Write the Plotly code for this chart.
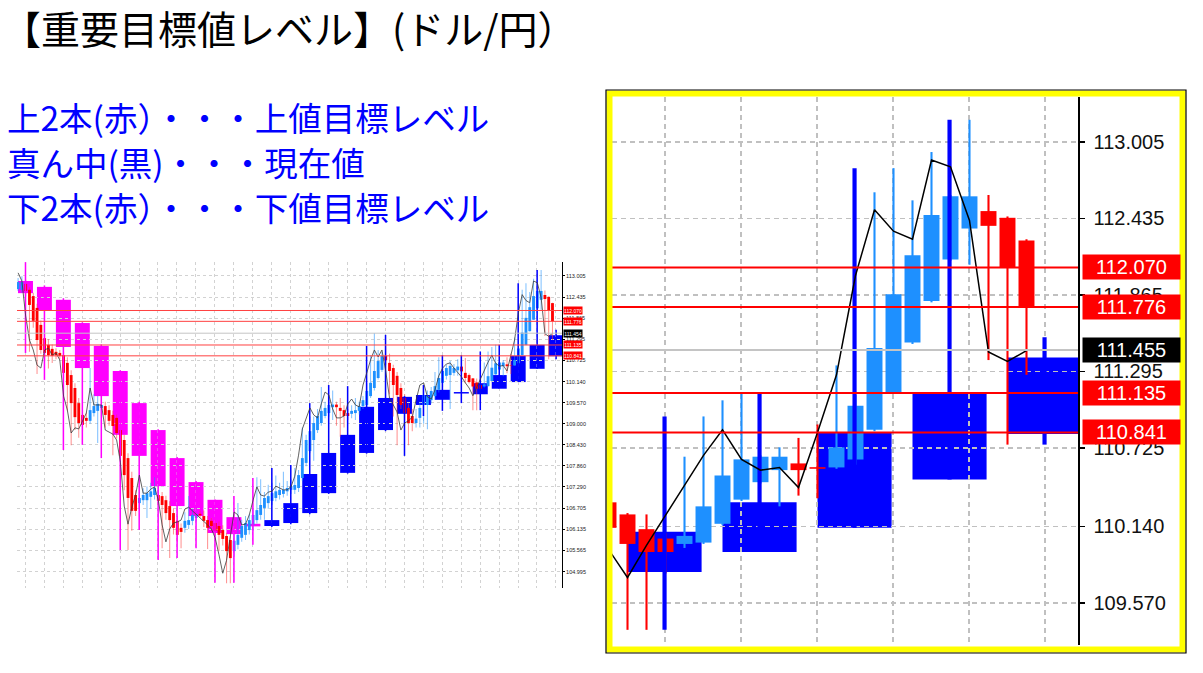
import plotly.graph_objects as go

W, H = 1203, 673

# ---------------- data ----------------
# daily candles, day index 0..141
d_open = [
    112.65, 112.63, 112.79, 112.63, 112.46, 112.14, 111.68, 111.32, 111.14, 111.03,
    110.95, 110.92, 110.86, 110.65, 110.32, 109.97, 109.56, 109.24, 109.16, 109.08,
    109.29, 109.35, 109.43, 109.48, 109.37, 109.24, 109.16, 108.83, 108.56, 108.07,
    107.53, 107.07, 106.85, 106.93, 106.93, 107.02, 107.07, 107.07, 107.04, 106.93,
    106.77, 106.58, 106.37, 106.18, 106.18, 106.26, 106.37, 106.45,
    106.56,
    106.50, 106.39, 106.37, 106.31, 106.23, 106.12, 105.96, 105.85, 105.55, 105.72,
    105.91, 105.99, 106.12, 106.26, 106.39, 106.53, 106.72, 106.85, 106.91, 106.99,
    107.07, 107.10, 107.17, 107.21, 107.21, 107.26, 107.53, 107.94, 108.26, 108.56,
    108.83, 109.02, 109.21, 109.29,
    109.45, 109.52,
    109.43, 109.37, 109.29, 109.27, 109.29, 109.35, 109.48, 109.51, 109.75, 109.97, 110.24, 110.46,
    110.84,
    110.65, 110.51, 110.30, 109.97, 109.70, 109.43, 109.21,
    109.02,
    109.16, 109.51, 109.51, 109.64, 109.75, 109.92, 110.11, 110.30, 110.32, 110.38,
    110.45, 110.55,
    110.38,
    110.32, 110.23, 110.12, 110.05, 110.01, 110.02, 110.16, 110.34, 110.47, 110.56,
    110.61, 110.58, 110.58, 110.64, 110.86, 111.14, 111.51, 111.82, 112.13, 112.36,
    112.49, 112.44, 112.27,
]
d_close = [
    112.84, 112.84, 112.60, 112.22, 111.79, 111.27, 111.00, 110.92, 110.86, 110.84,
    110.86, 110.84, 110.38, 110.05, 109.56, 109.18, 109.02, 108.97, 109.08, 109.37,
    109.48, 109.54, 109.51, 109.24, 109.08, 108.94, 108.75, 108.13, 107.61, 106.99,
    106.64, 106.64, 106.99, 107.07, 107.12, 107.17, 107.26, 106.91, 106.80, 106.58,
    106.39, 106.18, 105.99, 106.07, 106.37, 106.39, 106.53, 106.56,
    106.52,
    106.37, 106.18, 106.23, 106.10, 105.99, 105.88, 105.55, 105.36, 105.83, 105.99,
    106.23, 106.31, 106.39, 106.53, 106.66, 106.80, 106.99, 107.04, 107.12, 107.17,
    107.21, 107.21, 107.26, 107.31, 107.34, 107.61, 108.07, 108.56, 108.80, 109.02,
    109.21, 109.35, 109.43, 109.51,
    109.52, 109.45,
    109.35, 109.21, 109.21, 109.35, 109.37, 109.48, 109.64, 109.89, 110.11, 110.43, 110.70, 110.84,
    110.72,
    110.43, 110.05, 109.78, 109.51, 109.29, 109.02, 109.02,
    109.14,
    109.43, 109.78, 109.75, 109.89, 110.02, 110.24, 110.43, 110.51, 110.57, 110.51,
    110.55, 110.42,
    110.24,
    110.13, 110.01, 109.95, 109.95, 110.07, 110.29, 110.52, 110.64, 110.66, 110.66,
    110.56, 110.57, 110.73, 111.04, 111.47, 111.87, 112.16, 112.46, 112.60, 112.60,
    112.38, 112.07, 111.78,
]
d_high = [
    112.95, 113.00, 112.90, 112.70, 112.55, 112.25, 111.80, 111.45, 111.30, 111.15,
    111.05, 111.00, 110.95, 110.80, 110.45, 110.10, 109.70, 109.35, 109.30, 110.51,
    109.80, 109.75, 109.65, 109.60, 109.50, 109.35, 109.25, 108.95, 108.70, 108.20,
    107.70, 107.20, 107.15, 107.25, 107.30, 107.40, 107.55, 107.20, 107.15, 107.05,
    106.90, 106.70, 106.50, 106.30, 106.60, 107.04, 106.70, 106.75,
    106.65,
    106.65, 106.50, 106.45, 106.40, 106.35, 106.25, 106.05, 105.95, 106.00, 106.85,
    106.40, 106.50, 106.55, 106.70, 107.55, 107.50, 107.15, 107.35, 107.40, 107.60,
    107.40, 107.70, 107.45, 107.50, 107.80, 107.75, 108.90, 108.70, 109.20, 109.20,
    109.40, 110.00, 109.60, 109.70,
    109.90, 109.60,
    109.70, 109.50, 109.40, 109.50, 109.70, 109.60, 109.75, 110.10, 110.85, 111.46, 111.00, 110.95,
    111.10,
    110.90, 110.60, 110.40, 110.10, 109.80, 109.55, 109.40,
    109.40,
    109.60, 109.95, 109.90, 110.00, 110.40, 110.80, 110.55, 110.60, 110.70, 110.62,
    110.75, 110.70,
    110.78,
    110.36, 110.24, 110.23, 110.09, 110.66, 110.96, 111.08, 111.14, 110.67, 110.73,
    110.80, 110.90, 111.34, 111.12, 112.63, 112.81, 112.57, 112.93, 112.61, 113.17,
    112.61, 112.45, 112.28,
]
d_low = [
    112.60, 112.55, 112.45, 110.95, 111.60, 110.35, 110.90, 110.70, 110.50, 110.65,
    110.75, 110.75, 110.25, 109.35, 108.42, 108.83, 108.62, 108.80, 108.90, 109.00,
    109.20, 108.48, 109.30, 108.90, 108.95, 108.15, 108.60, 107.95, 107.20, 105.58,
    106.10, 106.50, 106.70, 106.80, 106.45, 106.70, 106.95, 106.80, 105.63, 106.40,
    105.36, 106.00, 105.80, 105.63, 106.05, 106.15, 106.25, 106.35,
    106.45,
    106.20, 105.61, 106.10, 105.95, 105.55, 105.70, 104.68, 104.68, 105.40, 105.60,
    105.80, 105.85, 106.00, 106.10, 106.30, 106.40, 106.40, 106.70, 106.80, 106.90,
    106.95, 107.00, 107.05, 107.10, 107.10, 107.15, 107.45, 107.85, 108.20, 108.00,
    108.75, 108.95, 109.15, 109.20,
    109.10, 108.95,
    108.65, 108.90, 109.10, 109.15, 109.10, 109.25, 109.40, 109.45, 109.70, 109.90, 110.20, 110.40,
    110.60,
    109.80, 109.20, 108.42, 109.40, 109.10, 108.42, 108.80,
    108.90,
    108.90, 109.00, 108.85, 109.55, 109.65, 109.85, 110.00, 110.20, 109.40, 110.30,
    110.30, 110.35,
    110.10,
    110.09, 109.37, 109.37, 109.79, 109.98, 110.01, 110.15, 110.33, 110.46, 110.29,
    110.37, 110.35, 110.57, 110.60, 110.85, 111.13, 111.50, 111.81, 112.12, 112.09,
    111.38, 110.75, 111.27,
]

# weekly candles (29 weeks)
w_open = [112.87, 112.71, 112.36, 111.73, 111.11, 110.43, 109.56, 108.83, 108.07, 107.42,
          106.94, 106.47, 106.29, 106.23, 106.31, 106.58, 107.12, 107.67, 108.21, 108.83,
          109.27, 109.51, 109.65, 109.82, 109.80, 109.95, 110.13, 110.49, 110.83]
w_close = [112.54, 112.06, 111.08, 110.51, 109.75, 108.70, 108.13, 107.31, 106.77, 106.50,
           106.04, 106.01, 106.22, 106.39, 106.85, 107.64, 108.21, 108.70, 109.46, 109.70,
           109.73, 109.78, 109.92, 109.86, 110.10, 110.32, 110.84, 111.14, 111.40]
w_high = [113.38, 112.75, 112.40, 111.75, 111.15, 110.45, 109.60, 108.85, 108.10, 107.45,
          106.95, 107.04, 107.53, 107.80, 107.88, 109.56, 110.05, 110.02, 111.11, 111.41,
          109.75, 110.05, 110.86, 110.86, 110.96, 111.14, 112.81, 113.17, 111.55]
w_low = [110.92, 110.19, 108.29, 108.43, 108.07, 105.58, 106.12, 105.31, 105.36, 105.63,
         104.69, 104.69, 105.72, 106.20, 106.28, 106.55, 107.10, 107.65, 108.19, 108.80,
         108.13, 109.21, 109.35, 109.56, 109.37, 109.95, 110.13, 110.49, 110.75]

# black close line (one value per day)
line_val = [
    113.09, 112.87, 111.92, 111.27, 111.00, 110.59, 110.51, 111.00, 111.05, 110.86,
    110.92, 110.73, 109.75, 109.37, 108.75, 108.89, 108.86, 109.10, 109.29, 109.97,
    109.51, 109.51, 109.51, 108.83, 108.78, 108.72, 108.56, 107.96, 106.77, 106.28,
    106.74, 107.07, 107.61, 107.12, 107.12, 107.23, 107.29, 106.93, 106.26, 105.80,
    106.15, 106.31, 106.34, 106.39, 106.69, 106.74, 106.64, 106.55, 106.45, 106.37,
    106.26, 106.15, 105.91, 105.45, 104.95, 105.30, 105.99, 106.61, 106.53, 106.26,
    106.28, 106.53, 106.93, 107.29, 107.07, 107.04, 107.15, 107.17, 107.31, 107.26,
    107.21, 107.21, 107.29, 107.58, 108.15, 108.86, 109.16, 109.43, 109.24, 109.16,
    109.54, 109.86, 109.78, 109.40, 109.16, 109.16, 109.21, 109.54, 109.67, 109.51,
    109.46, 110.05, 110.38, 110.73, 111.00, 110.81, 111.00, 110.43, 109.70, 109.51,
    109.32, 108.83, 109.02, 109.08, 109.18, 109.64, 110.05, 110.11, 109.73, 109.67,
    109.92, 110.30, 110.51, 110.62, 110.65, 110.51, 110.40, 110.27, 110.11,
    109.97, 109.76, 110.00, 110.22, 110.44, 110.67, 110.86, 110.64, 110.56, 110.58,
    110.43, 110.84, 111.27, 112.01, 112.50, 112.34, 112.28, 112.87, 112.82, 112.42,
    111.44, 111.37, 111.45,
]

upper_levels = [112.070, 111.776]
lower_levels = [111.135, 110.841]
current_price = 111.455
current_price_small = "111.454"
price_ticks = [113.005, 112.435, 111.865, 111.295, 110.725, 110.140, 109.570, 109.000,
               108.430, 107.860, 107.290, 106.705, 106.135, 105.565, 104.995]

title_text = "【重要目標値レベル】(ドル/円）"
notes = ["上2本(赤）・・・上値目標レベル", "真ん中(黒)・・・現在値", "下2本(赤）・・・下値目標レベル"]

# ---------------- figure ----------------
UP_D, DN_D = "#1E90FF", "#FF0000"
UP_W, DN_W = "#0000FF", "#FF00FF"

days = list(range(len(d_open)))
wk_x = [5 * k + 1.95 for k in range(len(w_open))]

fig = go.Figure()


def add_chart(xa, ya, body_w, wick_w, wwick_w, wk_box_w, wick_cols, line_col, line_w):
    up = [j for j in days if d_close[j] >= d_open[j]]
    dn = [j for j in days if d_close[j] < d_open[j]]
    # daily wicks
    for idx, col in ((up, wick_cols[0]), (dn, wick_cols[1])):
        fig.add_bar(x=idx, base=[d_low[j] for j in idx],
                    y=[d_high[j] - d_low[j] for j in idx], width=wick_w,
                    marker=dict(color=col, line=dict(width=0)),
                    xaxis=xa, yaxis=ya, hoverinfo="skip", showlegend=False)
    # daily bodies
    for idx, col in ((up, UP_D), (dn, DN_D)):
        fig.add_bar(x=idx, base=[min(d_open[j], d_close[j]) for j in idx],
                    y=[max(abs(d_close[j] - d_open[j]), 0.012) for j in idx], width=body_w,
                    marker=dict(color=col, line=dict(width=0)),
                    xaxis=xa, yaxis=ya, hoverinfo="skip", showlegend=False)
    # weekly bodies (background objects, under the grid)
    for k in range(len(w_open)):
        fig.add_shape(type="rect", xref=xa, yref=ya,
                      x0=wk_x[k] - wk_box_w / 2, x1=wk_x[k] + wk_box_w / 2,
                      y0=min(w_open[k], w_close[k]), y1=max(w_open[k], w_close[k]),
                      fillcolor=UP_W if w_close[k] >= w_open[k] else DN_W,
                      line=dict(width=0), layer="below")
    # weekly wicks
    wu = [k for k in range(len(w_open)) if w_close[k] >= w_open[k]]
    wd = [k for k in range(len(w_open)) if w_close[k] < w_open[k]]
    for idx, col in ((wu, UP_W), (wd, DN_W)):
        fig.add_bar(x=[wk_x[k] for k in idx], base=[w_low[k] for k in idx],
                    y=[w_high[k] - w_low[k] for k in idx], width=wwick_w,
                    marker=dict(color=col, line=dict(width=0)),
                    xaxis=xa, yaxis=ya, hoverinfo="skip", showlegend=False)
    # close line
    fig.add_scatter(x=days, y=line_val, mode="lines",
                    line=dict(color=line_col, width=line_w),
                    xaxis=xa, yaxis=ya, hoverinfo="skip", showlegend=False)


# left (overview) chart
add_chart("x", "y", 0.75, 0.28, 0.4, 3.95,
          ("rgba(30,144,255,0.55)", "rgba(255,60,60,0.55)"), "#3a3a3a", 0.8)
# right (zoomed) chart
add_chart("x2", "y2", 0.84, 0.11, 0.22, 3.9, (UP_D, DN_D), "#000000", 1.5)

# level lines
for xa, ya, wred, wgray, red_col in (("x", "y", 1, 1, "#FF4040"), ("x2", "y2", 2, 2, "#FF0000")):
    for lv in upper_levels + lower_levels:
        fig.add_shape(type="line", xref=f"{xa} domain", yref=ya, x0=0, x1=1, y0=lv, y1=lv,
                      line=dict(color=red_col, width=wred), layer="above")
    fig.add_shape(type="line", xref=f"{xa} domain", yref=ya, x0=0, x1=1,
                  y0=current_price, y1=current_price,
                  line=dict(color="#C4C4C4", width=wgray), layer="above")

# label boxes on the price scales
for lv in upper_levels + lower_levels:
    fig.add_annotation(x=1082 / W, xref="paper", xanchor="left", y=lv, yref="y2",
                       yanchor="middle", text=f"{lv:.3f}", showarrow=False,
                       font=dict(family="Liberation Sans", size=20, color="white"),
                       bgcolor="#FF0000", width=97, height=24, borderpad=0, align="center")
    fig.add_annotation(x=563 / W, xref="paper", xanchor="left", y=lv, yref="y",
                       yanchor="middle", text=f"{lv:.3f}", showarrow=False,
                       font=dict(family="Liberation Sans", size=5, color="white"),
                       bgcolor="#FF0000", width=18, height=7, borderpad=0, align="center")
fig.add_annotation(x=1082 / W, xref="paper", xanchor="left", y=current_price, yref="y2",
                   yanchor="middle", text=f"{current_price:.3f}", showarrow=False,
                   font=dict(family="Liberation Sans", size=20, color="white"),
                   bgcolor="#000000", width=97, height=24, borderpad=0, align="center")
fig.add_annotation(x=563 / W, xref="paper", xanchor="left", y=current_price, yref="y",
                   yanchor="middle", text=current_price_small, showarrow=False,
                   font=dict(family="Liberation Sans", size=5, color="white"),
                   bgcolor="#000000", width=18, height=7, borderpad=0, align="center")

# text
fig.add_annotation(x=0, xref="paper", xanchor="left", y=1 - 27 / H, yref="paper",
                   yanchor="middle", text=title_text, showarrow=False,
                   font=dict(family="Noto Sans CJK JP", size=39, color="black"))
for i, t in enumerate(notes):
    fig.add_annotation(x=5 / W, xref="paper", xanchor="left", y=1 - (116 + 45 * i) / H,
                       yref="paper", yanchor="middle", text=t, showarrow=False,
                       font=dict(family="Noto Sans CJK JP", size=33.5, color="#0000FF"))

# yellow frame around the zoomed chart
fig.add_shape(type="rect", xref="paper", yref="paper",
              x0=609.5 / W, x1=1182.5 / W, y0=1 - 649.5 / H, y1=1 - 93.5 / H,
              line=dict(color="#FFFF00", width=6), layer="above")
fig.add_shape(type="rect", xref="paper", yref="paper",
              x0=606 / W, x1=1186 / W, y0=1 - 653 / H, y1=1 - 90 / H,
              line=dict(color="#000000", width=1.2), layer="above")

tick_text = [f"{t:.3f}" for t in price_ticks]

fig.update_layout(
    width=W, height=H, margin=dict(l=0, r=0, t=0, b=0),
    paper_bgcolor="white", plot_bgcolor="white",
    barmode="overlay", showlegend=False,
    font=dict(family="Noto Sans CJK JP"),
    xaxis=dict(domain=[17 / W, 562 / W], range=[-0.29, 143.51], anchor="y",
               showticklabels=False, ticks="", showline=False, zeroline=False,
               showgrid=True, tick0=1.9, dtick=5, gridcolor="#D2D2D2", griddash="dot",
               gridwidth=1),
    yaxis=dict(domain=[1 - 588 / H, 1 - 262 / H], range=[104.55, 113.384], anchor="x",
               side="right", tickmode="array", tickvals=price_ticks, ticktext=tick_text,
               tickfont=dict(family="Liberation Sans", size=5.5, color="#222"),
               showline=True, linecolor="#000", linewidth=1, ticks="outside",
               ticklen=2, tickcolor="#000", zeroline=False,
               showgrid=True, gridcolor="#D2D2D2", griddash="dot", gridwidth=1),
    xaxis2=dict(domain=[612 / W, 1078 / W], range=[119.184, 143.711], anchor="y2",
                showticklabels=False, ticks="", showline=False, zeroline=False,
                showgrid=True, tick0=121.97, dtick=4, gridcolor="#C0C0C0",
                griddash="5px,4px", gridwidth=1.5),
    yaxis2=dict(domain=[1 - 645 / H, 1 - 97 / H], range=[109.257, 113.340], anchor="x2",
                side="right", tickmode="array", tickvals=price_ticks, ticktext=tick_text,
                tickfont=dict(family="Liberation Sans", size=20, color="#111"),
                showline=True, linecolor="#000", linewidth=1.5, ticks="outside",
                ticklen=5, tickcolor="#000", tickwidth=1.5, zeroline=False,
                ticklabelstandoff=5,
                showgrid=True, gridcolor="#C0C0C0", griddash="5px,4px", gridwidth=1.5),
)

fig.write_html("out.html", config={"displayModeBar": False, "staticPlot": True},
               post_script="document.body.style.margin='0';document.body.style.overflow='hidden';")
